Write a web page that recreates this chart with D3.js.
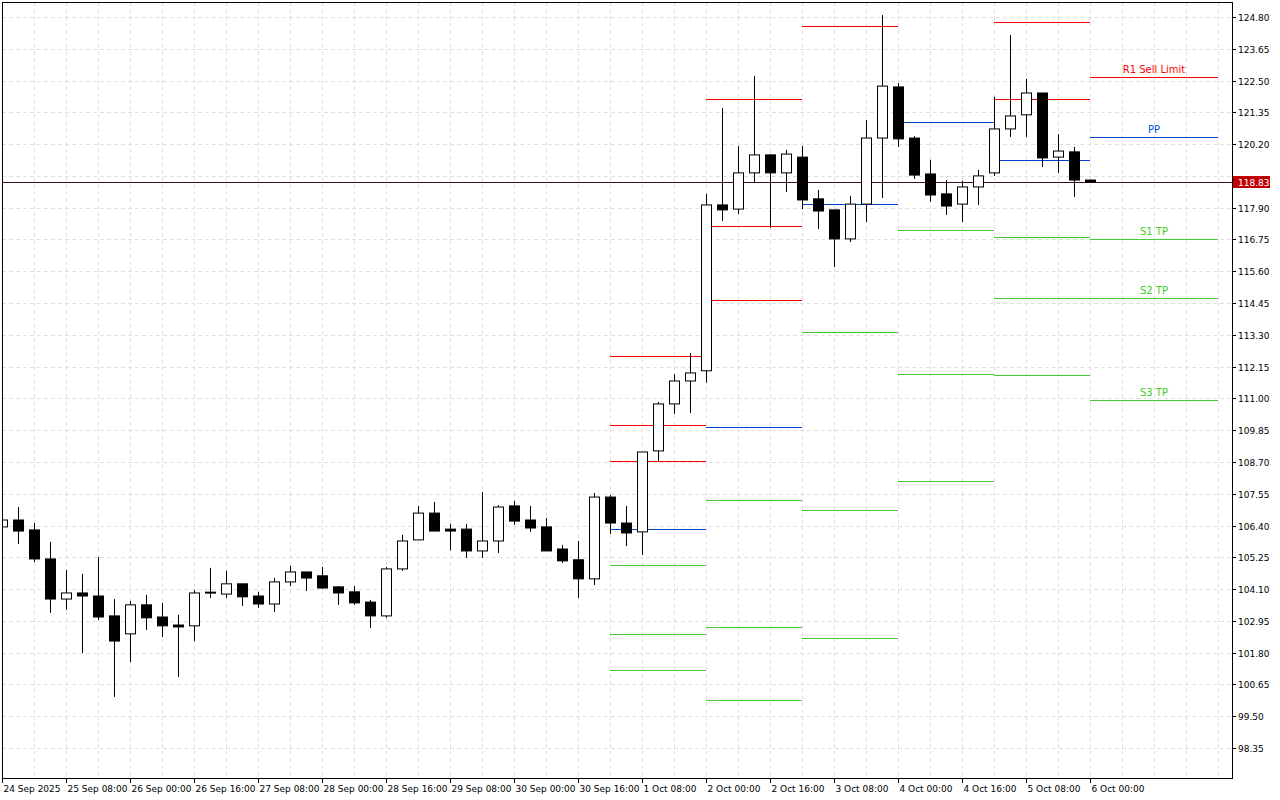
<!DOCTYPE html>
<html>
<head>
<meta charset="utf-8">
<script src="https://cdn.jsdelivr.net/npm/d3@7"></script>
<style>
  body { margin: 0; background: #fff; }
  text { font-family: "DejaVu Sans", sans-serif; font-size: 9px; }
  text.level { font-size: 10px; }
</style>
</head>
<body>
<script>
// 4H candles, index 0 = 24 Sep 16:00
var opens  = [106.35,106.60,106.24,105.19,103.74,103.96,103.85,103.13,102.48,103.53,103.09,102.80,102.77,103.96,103.92,104.29,103.85,103.56,104.36,104.72,104.58,104.18,104.00,103.63,103.13,
              104.83,105.88,106.85,106.27,106.27,105.48,105.84,107.11,106.60,106.35,105.55,105.16,104.47,107.43,106.49,106.17,109.10,110.80,111.63,112.00,
              118.00,117.85,119.16,119.81,119.16,119.73,118.22,117.82,116.77,118.03,120.42,122.27,120.42,119.12,118.40,118.03,118.65,119.16,120.75,121.26,122.05,119.73,119.92,118.90]
var highs  = [106.70,107.07,106.49,105.81,104.79,104.65,105.26,103.74,103.67,103.89,103.60,103.17,104.07,104.87,104.76,104.29,104.00,104.50,104.94,104.72,104.90,104.21,104.21,103.71,104.90,
              106.06,107.11,107.25,106.46,106.46,107.61,107.14,107.29,107.11,106.67,105.70,105.84,107.58,107.50,107.11,109.06,110.87,111.88,112.64,118.40,
              121.51,120.13,122.67,119.84,119.99,120.13,118.54,117.82,118.33,121.07,124.87,122.41,120.49,119.63,118.90,118.87,119.27,121.91,124.15,122.56,122.05,120.56,120.10,118.92]
var lows   = [106.30,105.73,105.08,103.24,103.35,101.79,102.98,100.20,101.46,102.62,102.37,100.92,102.22,103.78,103.78,103.49,103.42,103.27,104.21,104.03,104.10,103.53,103.53,102.69,103.06,
              104.76,105.88,106.20,105.50,105.23,105.23,105.41,106.42,106.17,105.48,105.05,103.78,104.25,106.10,105.66,105.34,108.74,110.44,110.47,111.57,
              117.42,117.67,118.79,117.17,118.47,117.85,117.13,115.75,116.66,117.38,118.25,120.10,118.94,118.11,117.64,117.38,118.00,119.05,120.46,120.46,119.37,119.16,118.29,118.83]
var closes = [106.60,106.20,105.19,103.74,103.96,103.85,103.09,102.22,103.53,103.06,102.77,102.73,103.96,103.99,104.29,103.82,103.56,104.36,104.72,104.50,104.14,103.96,103.60,103.13,104.83,
              105.84,106.85,106.20,106.20,105.48,105.84,107.07,106.56,106.31,105.48,105.12,104.47,107.43,106.49,106.13,109.06,110.80,111.63,111.92,118.00,
              117.82,119.16,119.81,119.16,119.84,118.18,117.78,116.77,118.03,120.42,122.30,120.39,119.08,118.36,117.96,118.65,119.05,120.75,121.22,122.05,119.70,119.95,118.90,118.83]

var priceTicks = [124.80,123.65,122.50,121.35,120.20,119.05,117.90,116.75,115.60,114.45,113.30,112.15,111.00,109.85,108.70,107.55,106.40,105.25,104.10,102.95,101.80,100.65,99.50,98.35]
var timeTicks = [0,4,8,12,16,20,24,28,32,36,40,44,48,52,56,60,64,68]
var timeLabels = ["24 Sep 2025","25 Sep 08:00","26 Sep 00:00","26 Sep 16:00","27 Sep 08:00","28 Sep 00:00","28 Sep 16:00","29 Sep 08:00","30 Sep 00:00","30 Sep 16:00",
                  "1 Oct 08:00","2 Oct 00:00","2 Oct 16:00","3 Oct 08:00","4 Oct 00:00","4 Oct 16:00","5 Oct 08:00","6 Oct 00:00"]
var lastPrice = 118.83

// daily pivot segments: [start candle, end candle]
var pivotSpans = [[38,44],[44,50],[50,56],[56,62],[62,68],[68,76]]
var pivotRed   = [[112.54,110.04,108.74],[121.83,117.24,114.56],[124.47],[],[124.62,121.83],[122.63]]
var pivotBlue  = [106.28,109.97,118.03,121.00,119.63,120.46]
var pivotGreen = [[104.97,102.48,101.17],[107.33,102.73,100.09],[113.40,106.96,102.34],[117.09,111.88,108.01],[116.84,114.63,111.85],[116.77,114.63,110.94]]
var levelLabels = ["R1 Sell Limit","PP","S1 TP","S2 TP","S3 TP"]
var levelLabelPrices = [122.63,120.46,116.77,114.63,110.94]
var levelLabelColors = ["#ff0000","#0050dc","#44cc22","#44cc22","#44cc22"]

var W = 1280, H = 800
var plot = {left: 2, right: 1232, top: 2, bottom: 778}
var RED = "#ff0000", BLUE = "#0044cc", GREEN = "#44cc33"

var x = d3.scaleLinear().domain([0, 1]).range([2, 18])
var y = d3.scaleLinear().domain([98.35, 124.80]).range([748, 17])

var svg = d3.select("body").append("svg").attr("width", W).attr("height", H)
svg.append("defs").append("clipPath").attr("id", "clip")
  .append("rect").attr("x", plot.left).attr("y", plot.top)
  .attr("width", plot.right - plot.left).attr("height", plot.bottom - plot.top)

var g = svg.append("g").attr("clip-path", "url(#clip)")

// grid
g.selectAll(".hgrid").data(priceTicks).enter().append("line")
  .attr("x1", plot.left).attr("x2", plot.right)
  .attr("y1", function(d){return Math.round(y(d)) + 0.5}).attr("y2", function(d){return Math.round(y(d)) + 0.5})
  .attr("stroke", "#e0e0e0").attr("stroke-dasharray", "4,3")
g.selectAll(".vgrid").data(d3.range(0, 77, 2)).enter().append("line")
  .attr("x1", function(d){return Math.round(x(d)) + 0.5}).attr("x2", function(d){return Math.round(x(d)) + 0.5})
  .attr("y1", plot.top).attr("y2", plot.bottom)
  .attr("stroke", "#e0e0e0").attr("stroke-dasharray", "4,3")

// last price line
g.append("line").attr("x1", plot.left).attr("x2", plot.right)
  .attr("y1", Math.round(y(lastPrice)) + 0.5).attr("y2", Math.round(y(lastPrice)) + 0.5)
  .attr("stroke", "#3a1010").attr("stroke-width", 1)

// pivots
function levelLine(span, price, color) {
  g.append("line")
    .attr("x1", x(span[0])).attr("x2", x(span[1]))
    .attr("y1", Math.round(y(price)) + 0.5).attr("y2", Math.round(y(price)) + 0.5)
    .attr("stroke", color).attr("stroke-width", 1)
}
pivotSpans.forEach(function(span, i) {
  pivotRed[i].forEach(function(p){ levelLine(span, p, RED) })
  levelLine(span, pivotBlue[i], BLUE)
  pivotGreen[i].forEach(function(p){ levelLine(span, p, GREEN) })
})

levelLabels.forEach(function(t, i) {
  g.append("text").attr("class", "level").attr("x", x(72)).attr("y", y(levelLabelPrices[i]) - 4)
    .attr("text-anchor", "middle").attr("fill", levelLabelColors[i]).text(t)
})

// candles
var idx = d3.range(opens.length)
var cg = g.selectAll(".candle").data(idx).enter().append("g")
cg.append("line")
  .attr("x1", function(i){return Math.round(x(i)) + 0.5}).attr("x2", function(i){return Math.round(x(i)) + 0.5})
  .attr("y1", function(i){return y(highs[i])}).attr("y2", function(i){return y(lows[i])})
  .attr("stroke", "#000").attr("stroke-width", 1)
cg.append("rect")
  .attr("x", function(i){return Math.round(x(i)) - 4.5})
  .attr("width", 10)
  .attr("y", function(i){return y(Math.max(opens[i], closes[i]))})
  .attr("height", function(i){return Math.max(1, Math.abs(y(opens[i]) - y(closes[i])))})
  .attr("fill", function(i){return closes[i] >= opens[i] ? "#fff" : "#000"})
  .attr("stroke", "#000").attr("stroke-width", 1)

// frame
svg.append("rect").attr("x", plot.left + 0.5).attr("y", plot.top + 0.5)
  .attr("width", plot.right - plot.left).attr("height", plot.bottom - plot.top)
  .attr("fill", "none").attr("stroke", "#000")

// price axis (119.05 sits under the last-price badge)
var ya = svg.append("g")
priceTicks.forEach(function(p) {
  var yy = Math.round(y(p)) + 0.5
  ya.append("line").attr("x1", plot.right).attr("x2", plot.right + 4).attr("y1", yy).attr("y2", yy).attr("stroke", "#000")
  if (Math.abs(y(p) - y(lastPrice)) > 10)
    ya.append("text").attr("x", plot.right + 6).attr("y", yy + 3).attr("fill", "#000").text(p.toFixed(2))
})
var ly = Math.round(y(lastPrice))
ya.append("rect").attr("x", plot.right + 1).attr("y", ly - 6).attr("width", 37).attr("height", 12).attr("fill", "#c00000")
ya.append("text").attr("x", plot.right + 6).attr("y", ly + 3.5).attr("fill", "#fff").text(lastPrice.toFixed(2))

// time axis
var xa = svg.append("g")
timeTicks.forEach(function(t, i) {
  var xx = Math.round(x(t)) + 0.5
  xa.append("line").attr("x1", xx).attr("x2", xx).attr("y1", plot.bottom).attr("y2", plot.bottom + 5).attr("stroke", "#000")
  xa.append("text").attr("x", xx + 1).attr("y", plot.bottom + 14).attr("fill", "#000").text(timeLabels[i])
})
</script>
</body>
</html>
